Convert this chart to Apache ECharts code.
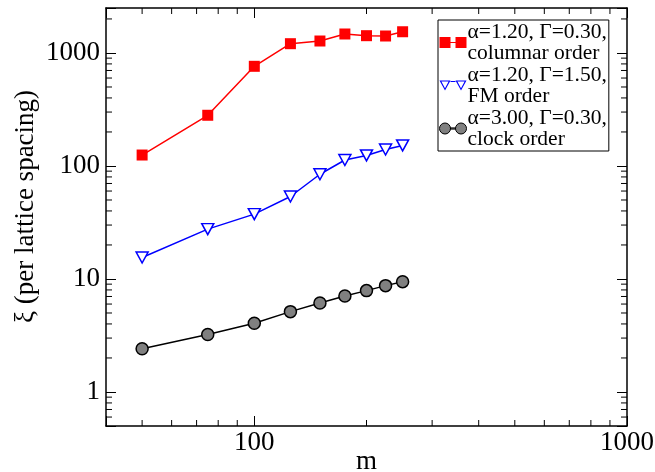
<!DOCTYPE html>
<html>
<head>
<meta charset="utf-8">
<script src="https://cdn.jsdelivr.net/npm/echarts@6/dist/echarts.min.js"></script>
<style>
html,body{margin:0;padding:0;background:#fff;}
#chart{width:655px;height:472px;}
</style>
</head>
<body>
<div id="chart"></div>
<script>
// ---- data ----
const mValues = [50, 75, 100, 125, 150, 175, 200, 225, 250];
const columnarXi = [125, 281, 762, 1208, 1276, 1472, 1422, 1413, 1541];
const fmXi = [15.5, 27.6, 37.5, 53.7, 84.5, 113, 124, 140, 152];
const clockXi = [2.41, 3.23, 4.06, 5.14, 6.14, 7.08, 7.89, 8.73, 9.47];
const seriesNames = [
  'α=1.20, Γ=0.30,\ncolumnar order',
  'α=1.20, Γ=1.50,\nFM order',
  'α=3.00, Γ=0.30,\nclock order'
];
const xRange = [40, 1000];
const yRange = [0.5, 2500];
const xTitle = 'm';
const yTitle = 'ξ (per lattice spacing)';

function minorList(lo, hi) {
  const out = [];
  for (let e = Math.floor(Math.log10(lo)); e <= Math.ceil(Math.log10(hi)); e++) {
    for (let k = 2; k <= 9; k++) {
      const v = k * Math.pow(10, e);
      if (v > lo * 1.0001 && v < hi * 0.9999) out.push(v);
    }
  }
  return out;
}
const xMinor = minorList(xRange[0], xRange[1]);
const yMinor = minorList(yRange[0], yRange[1]);

const FONT = 'Liberation Serif';
const pairs = ys => mValues.map((m, i) => [m, ys[i]]);
const labelFmt = v => {
  const l = Math.log10(v);
  return Math.abs(l - Math.round(l)) < 1e-6 ? String(Math.round(v)) : '';
};

const axisCommon = {
  type: 'log', logBase: 10,
  axisLine: {show: true, lineStyle: {color: '#000', width: 1.5}},
  axisTick: {show: true, inside: true, length: 10, lineStyle: {color: '#000', width: 1}},
  splitLine: {show: false},
  minorTick: {show: false}
};

const chart = echarts.init(document.getElementById('chart'), null, {renderer: 'canvas'});
chart.setOption({
  animation: false,
  backgroundColor: '#fff',
  grid: {left: 106, right: 28, top: 8, bottom: 46, containLabel: false, outerBoundsMode: 'none'},
  xAxis: [
    Object.assign({}, axisCommon, {
      position: 'bottom', min: xRange[0], max: xRange[1],
      name: xTitle, nameLocation: 'middle', nameGap: 22, nameMoveOverlap: false,
      nameTextStyle: {fontFamily: FONT, fontSize: 27, color: '#000'},
      axisLabel: {show: true, margin: 3, fontFamily: FONT, fontSize: 27, color: '#000', formatter: labelFmt}
    }),
    Object.assign({}, axisCommon, {
      position: 'top', min: xRange[0], max: xRange[1],
      axisLabel: {show: false}
    })
  ],
  yAxis: [
    Object.assign({}, axisCommon, {
      position: 'left', min: yRange[0], max: yRange[1],
      name: yTitle, nameLocation: 'middle', nameGap: 67, nameMoveOverlap: false,
      nameTextStyle: {fontFamily: FONT, fontSize: 27, color: '#000', padding: [0, 0, 0, 21]},
      axisLabel: {show: true, margin: 6, fontFamily: FONT, fontSize: 27, color: '#000', formatter: labelFmt}
    }),
    Object.assign({}, axisCommon, {
      position: 'right', min: yRange[0], max: yRange[1],
      axisLabel: {show: false}
    })
  ],
  legend: {
    orient: 'vertical', left: 438, top: 20,
    padding: [1, 2, 1, 1], itemGap: 0,
    itemWidth: 27, itemHeight: 11,
    borderColor: '#000', borderWidth: 1,
    backgroundColor: '#fff',
    selectedMode: false,
    textStyle: {fontFamily: FONT, fontSize: 21.5, lineHeight: 21, color: '#000', padding: [0, 0, 0, -4]},
    data: [
      {name: seriesNames[0], icon: 'path://M0,0H11V11H0Z M16,0H27V11H16Z M11,4.9H16V6.1H11Z',
       itemStyle: {color: '#ff0000', borderWidth: 0}},
      {name: seriesNames[1], icon: 'path://M0,0L11,0L5.5,10Z M1.9,1.1L5.5,7.7L9.1,1.1Z M16,0L27,0L21.5,10Z M17.9,1.1L21.5,7.7L25.1,1.1Z M11,0.4H16V1.6H11Z',
       itemStyle: {color: '#0000ff', borderWidth: 0}},
      {name: seriesNames[2], icon: 'path://M0,5.5A5.5,5.5 0 1,0 11,5.5A5.5,5.5 0 1,0 0,5.5Z M16,5.5A5.5,5.5 0 1,0 27,5.5A5.5,5.5 0 1,0 16,5.5Z M11,4.9H16V6.1H11Z',
       itemStyle: {color: '#808080', borderColor: '#000', borderWidth: 1}}
    ]
  },
  series: [
    {
      type: 'custom', silent: true, xAxisIndex: 0, yAxisIndex: 0,
      data: xMinor.map(v => [v, 1]),
      renderItem: function (params, api) {
        const cs = params.coordSys;
        const x = api.coord([api.value(0), 1])[0];
        const b = cs.y + cs.height, t = cs.y;
        return {type: 'group', children: [
          {type: 'line', shape: {x1: x, y1: b, x2: x, y2: b - 6}, style: {stroke: '#000', lineWidth: 1}},
          {type: 'line', shape: {x1: x, y1: t, x2: x, y2: t + 6}, style: {stroke: '#000', lineWidth: 1}}
        ]};
      }
    },
    {
      type: 'custom', silent: true, xAxisIndex: 0, yAxisIndex: 0,
      data: yMinor.map(v => [100, v]),
      renderItem: function (params, api) {
        const cs = params.coordSys;
        const y = api.coord([100, api.value(1)])[1];
        const l = cs.x, r = cs.x + cs.width;
        return {type: 'group', children: [
          {type: 'line', shape: {x1: l, y1: y, x2: l + 6, y2: y}, style: {stroke: '#000', lineWidth: 1}},
          {type: 'line', shape: {x1: r, y1: y, x2: r - 6, y2: y}, style: {stroke: '#000', lineWidth: 1}}
        ]};
      }
    },
    {
      name: seriesNames[2], type: 'line', data: pairs(clockXi),
      symbol: 'circle', symbolSize: 12,
      lineStyle: {color: '#000', width: 1.5},
      itemStyle: {color: '#808080', borderColor: '#000', borderWidth: 1.5},
      emphasis: {disabled: true}, z: 3
    },
    {
      name: seriesNames[1], type: 'line', data: pairs(fmXi),
      symbol: 'triangle', symbolRotate: 180, symbolSize: [12, 11],
      lineStyle: {color: '#0000ff', width: 1.5},
      itemStyle: {color: '#ffffff', borderColor: '#0000ff', borderWidth: 1.5},
      emphasis: {disabled: true}, z: 4
    },
    {
      name: seriesNames[0], type: 'line', data: pairs(columnarXi),
      symbol: 'rect', symbolSize: 11,
      lineStyle: {color: '#ff0000', width: 1.5},
      itemStyle: {color: '#ff0000', borderWidth: 0},
      emphasis: {disabled: true}, z: 5
    }
  ]
});
</script>
</body>
</html>
